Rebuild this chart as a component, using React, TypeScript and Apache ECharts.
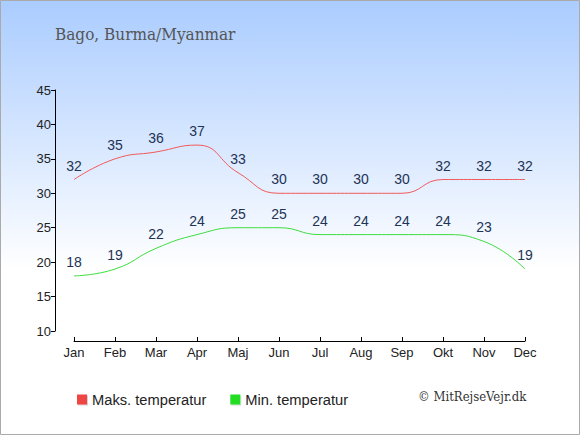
import React, { useEffect, useRef } from "react";
import * as echarts from "echarts";

const months = ["Jan", "Feb", "Mar", "Apr", "Maj", "Jun", "Jul", "Aug", "Sep", "Okt", "Nov", "Dec"];
const maxTemp = [32, 35, 36, 37, 33, 30, 30, 30, 30, 32, 32, 32];
const minTemp = [18, 19, 22, 24, 25, 25, 24, 24, 24, 24, 23, 19];
const titleText = "Bago, Burma/Myanmar";
const maxName = "Maks. temperatur";
const minName = "Min. temperatur";
const credit = "© MitRejseVejr.dk";

export default function App() {
  const ref = useRef<HTMLDivElement>(null);
  useEffect(() => {
    if (!ref.current) return;
    const chart = echarts.init(ref.current, null, { renderer: "svg" });
    const labelStyle = {
      show: true,
      position: "top",
      distance: 7,
      color: "#223355",
      fontSize: 14,
      fontFamily: "Liberation Sans, Arial, sans-serif",
    };
    chart.setOption({
      animation: false,
      backgroundColor: new echarts.graphic.LinearGradient(0, 0, 0, 1, [
        { offset: 0, color: "#aaccff" },
        { offset: 0.62, color: "#ffffff" },
        { offset: 1, color: "#ffffff" },
      ]),
      textStyle: { fontFamily: "Liberation Sans, Arial, sans-serif" },
      title: {
        text: titleText,
        left: 50,
        top: 20,
        textStyle: {
          fontFamily: "'DejaVu Serif Condensed', 'DejaVu Serif', serif",
          fontSize: 17,
          fontWeight: "normal",
          color: "#555555",
        },
      },
      legend: {
        left: 72,
        top: 387,
        icon: "rect",
        itemWidth: 10,
        itemHeight: 10,
        itemGap: 24,
        textStyle: { fontSize: 14.7, color: "#222222" },
        itemStyle: { shadowColor: "rgba(0,0,0,0.18)", shadowOffsetX: 1, shadowOffsetY: 1, shadowBlur: 0 },
        data: [maxName, minName],
      },
      grid: { left: 74, right: 55, top: 90, bottom: 104 },
      xAxis: {
        type: "category",
        data: months,
        boundaryGap: false,
        offset: 10,
        axisLine: { lineStyle: { color: "#000000", width: 1 } },
        axisTick: { inside: true, length: 4, lineStyle: { color: "#000000" } },
        axisLabel: { color: "#222222", fontSize: 13, margin: 5 },
        splitLine: { show: false },
      },
      yAxis: {
        type: "value",
        min: 10,
        max: 45,
        interval: 5,
        offset: 19,
        axisLine: { show: true, lineStyle: { color: "#000000", width: 1 } },
        axisTick: { show: true, length: 4, lineStyle: { color: "#000000" } },
        axisLabel: { color: "#222222", fontSize: 13, margin: 4 },
        splitLine: { show: false },
      },
      graphic: [
        {
          type: "rect",
          shape: { x: 0.5, y: 0.5, width: 579, height: 434 },
          style: { fill: "none", stroke: "#aaaaaa", lineWidth: 1 },
          silent: true,
        },
        {
          type: "text",
          left: 418,
          top: 390,
          style: {
            text: credit,
            font: "13px 'DejaVu Serif Condensed', 'DejaVu Serif', serif",
            fill: "#333333",
          },
        },
      ],
      series: [
        {
          name: maxName,
          type: "line",
          data: maxTemp,
          smooth: 0.5,
          symbol: "circle",
          symbolSize: 0,
          color: "#ee4444",
          lineStyle: { width: 1, color: "#f05a5a" },
          label: labelStyle,
        },
        {
          name: minName,
          type: "line",
          data: minTemp,
          smooth: 0.5,
          symbol: "circle",
          symbolSize: 0,
          color: "#22dd22",
          lineStyle: { width: 1, color: "#3ddd3d" },
          label: labelStyle,
        },
      ],
    });
    return () => chart.dispose();
  }, []);
  return <div ref={ref} style={{ position: "fixed", left: 0, top: 0, width: 580, height: 435 }} />;
}
